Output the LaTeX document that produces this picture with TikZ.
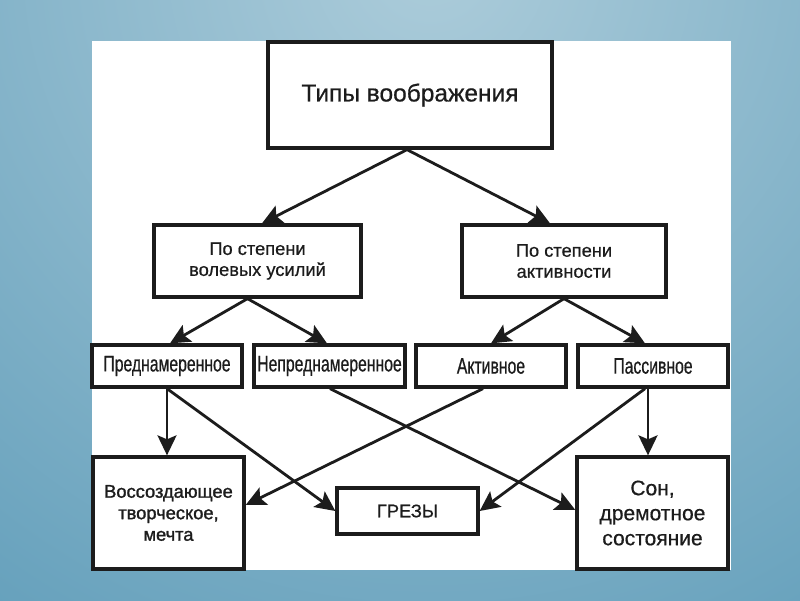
\documentclass[tikz,border=0pt]{standalone}
\usepackage{fontspec}
\setmainfont{Liberation Sans}
\newfontfamily\heavyfont[FakeBold=0.6]{Liberation Sans}
\newfontfamily\boldishfont[FakeBold=1.4]{Liberation Sans}
\newfontfamily\narrowfont[FakeStretch=0.70,FakeBold=0.6]{Liberation Sans}
\usetikzlibrary{arrows.meta}
\definecolor{bgin}{RGB}{172,204,218}
\definecolor{bgout}{RGB}{78,146,178}
\definecolor{ink}{RGB}{28,28,28}
\begin{document}
\begin{tikzpicture}[x=1pt,y=-1pt,
  box/.style={draw=ink, line width=3.3pt, fill=white, inner sep=0pt, align=center, text=ink},
  arr/.style={draw=ink, line width=2.8pt, -{Stealth[length=20pt,width=19pt,inset=4pt]}},
  bigtxt/.style={font=\heavyfont\fontsize{24.5}{29}\selectfont},
  midtxt/.style={font=\heavyfont\fontsize{18.3}{21}\selectfont},
  rowtxt/.style={font=\narrowfont\fontsize{22.5}{25}\selectfont},
  lefttxt/.style={font=\boldishfont\fontsize{18.3}{21.5}\selectfont},
  righttxt/.style={font=\heavyfont\fontsize{21}{25}\selectfont}]
\useasboundingbox (0,0) rectangle (800,600);
\begin{scope}
  \clip (0,0) rectangle (800,600);
  \shade[inner color=bgin, outer color=bgout] (430,-40) circle (1050);
\end{scope}
\fill[white] (92,41) rectangle (731,570);

\node[box, bigtxt, minimum width=284pt, minimum height=106pt] (A) at (410,95) {Типы воображения};
\node[box, midtxt, minimum width=207pt, minimum height=72pt] (B1) at (257.5,261) {По степени\\волевых усилий};
\node[box, midtxt, minimum width=204pt, minimum height=72pt] (B2) at (564,261) {По степени\\активности};

\node[box, rowtxt, minimum width=150pt, minimum height=42pt] (C1) at (167,366) {Преднамеренное};
\node[box, rowtxt, minimum width=151pt, minimum height=42pt] (C2) at (329.5,366) {Непреднамеренное};
\node[box, rowtxt, minimum width=150pt, minimum height=42pt] (C3) at (491,366) {Активное};
\node[box, rowtxt, minimum width=150pt, minimum height=42pt] (C4) at (653,366) {Пассивное};

\node[box, lefttxt, minimum width=151pt, minimum height=112pt] (D1) at (168.5,513) {Воссоздающее\\творческое,\\мечта};
\node[box, midtxt, minimum width=141pt, minimum height=46pt] (D2) at (407.5,511) {ГРЕЗЫ};
\node[box, righttxt, minimum width=151pt, minimum height=112pt] (D3) at (652.5,513) {Сон,\\дремотное\\состояние};

\draw[arr] ([xshift=-3pt]A.south) -- ([xshift=4.5pt]B1.north);
\draw[arr] ([xshift=-3pt]A.south) -- ([xshift=-14pt]B2.north);
\draw[arr] ([xshift=-10pt]B1.south) -- ([xshift=3pt]C1.north);
\draw[arr] ([xshift=-10pt]B1.south) -- ([xshift=-2.5pt]C2.north);
\draw[arr] (B2.south) -- (C3.north);
\draw[arr] (B2.south) -- ([xshift=-8pt]C4.north);

\draw[arr] (C1.south) -- (C1.south |- D1.north);
\draw[arr] (C1.south) -- (D2.west);
\draw[arr] ([xshift=0.5pt]C2.south) -- ([yshift=3pt]D3.west);
\draw[arr] ([xshift=-8pt]C3.south) -- ([yshift=8pt]D1.east);
\draw[arr] ([xshift=-5pt]C4.south) -- ([xshift=-5pt]C4.south |- D3.north);
\draw[arr] ([xshift=-8pt]C4.south) -- (D2.east);
\end{tikzpicture}
\end{document}
